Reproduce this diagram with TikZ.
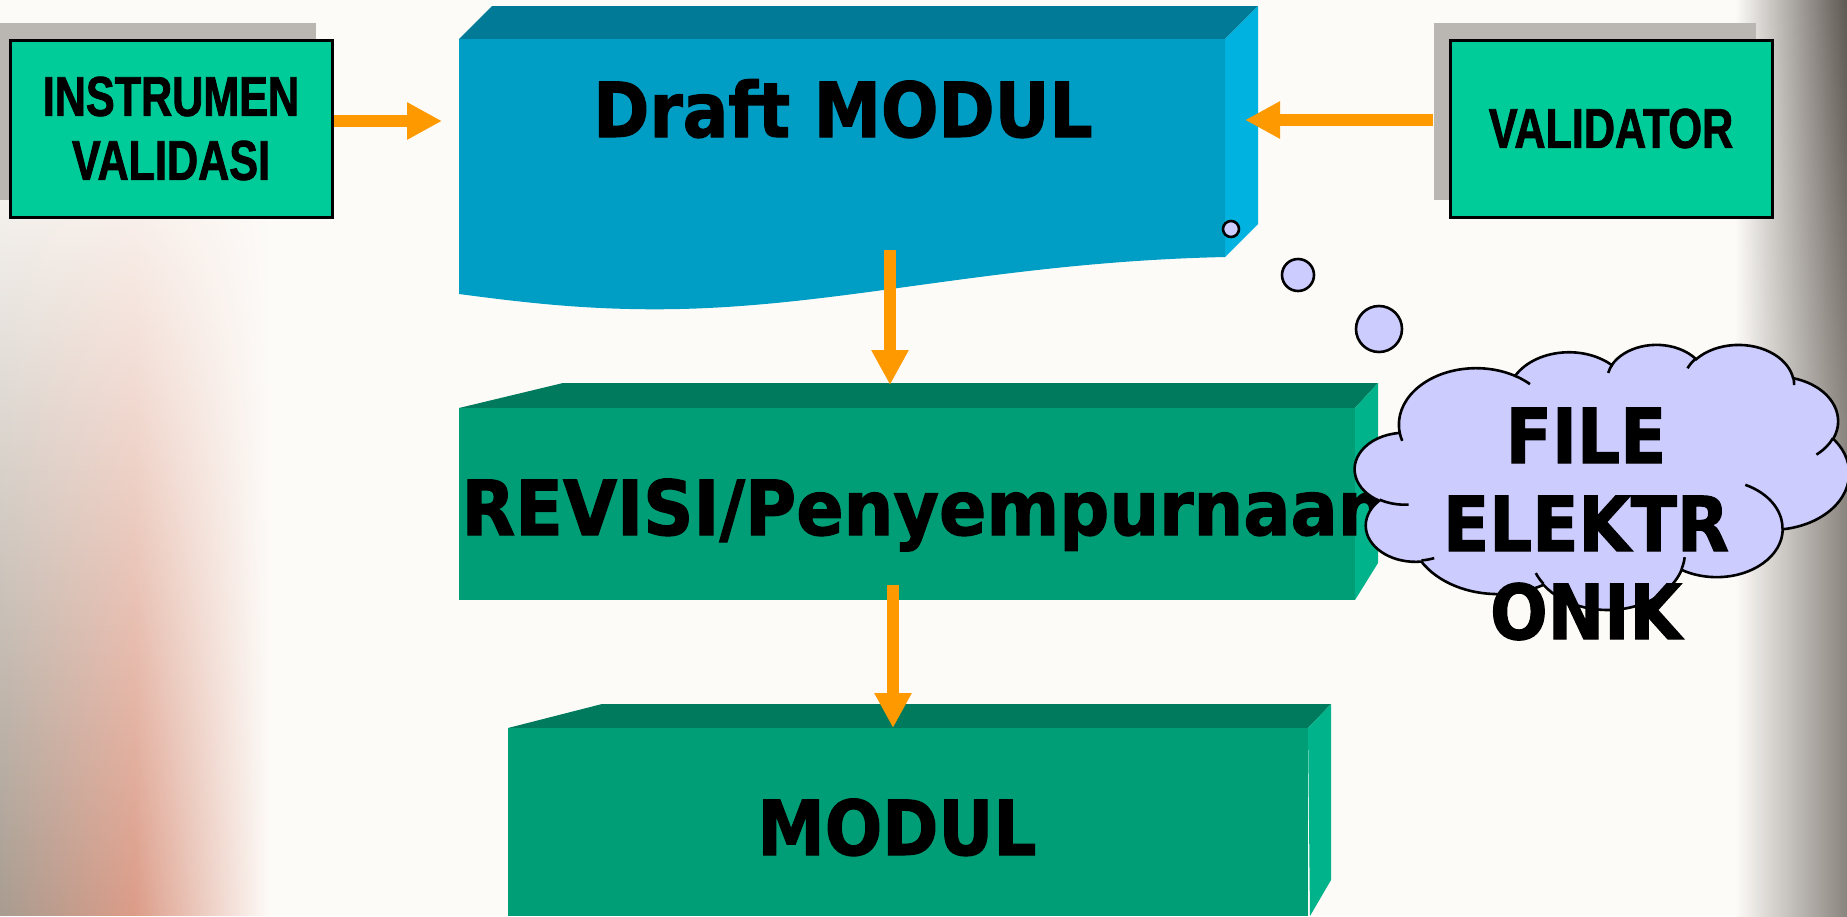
\documentclass[tikz,border=0pt]{standalone}
\usepackage{fontspec}
\usetikzlibrary{arrows.meta, shadows, fadings}
\newfontfamily\narrowbold[FakeStretch=0.77, FakeBold=1.5]{Liberation Sans Bold}
\newfontfamily\widebold[FakeStretch=0.89, FakeBold=1.5]{DejaVu Sans Bold}
\newfontfamily\revbold[FakeStretch=0.92, FakeBold=1.5]{DejaVu Sans Bold}

\definecolor{bgcol}{HTML}{FDFBF8}
\definecolor{leftgray}{HTML}{A89C90}
\definecolor{leftpink}{HTML}{DC9C88}
\definecolor{rightgray}{HTML}{8A847E}
\definecolor{rightdark}{HTML}{5E5852}
\definecolor{rightwarm}{HTML}{E6CFA8}
\definecolor{boxgreen}{HTML}{00CC99}
\definecolor{shadowgray}{HTML}{BAB6B2}
\definecolor{arrorange}{HTML}{FF9900}
\definecolor{draftfront}{HTML}{009DC4}
\definecolor{drafttop}{HTML}{007A96}
\definecolor{draftside}{HTML}{00B2E0}
\definecolor{revfront}{HTML}{009E76}
\definecolor{revtop}{HTML}{007A5C}
\definecolor{revside}{HTML}{00B38A}
\definecolor{cloudfill}{HTML}{CCCCFF}

\tikzfading[name=leftfade, top color=transparent!100, middle color=transparent!35, bottom color=transparent!0]
\tikzfading[name=midfade, top color=transparent!100, middle color=transparent!0, bottom color=transparent!100]

% one arc of the cloud outline: x radius, y radius, start angle, sweep (ray angles)
\newcommand{\cloudarc}[4]{arc[x radius=#1, y radius=#2,
  start angle={atan2(#1*sin(#3),#2*cos(#3))},
  delta angle={mod(atan2(#1*sin(#3+#4),#2*cos(#3+#4))-atan2(#1*sin(#3),#2*cos(#3))+720,360)}]}

\begin{document}
\begin{tikzpicture}[x=0.5pt,y=-0.5pt,
  greenbox/.style={draw=black, line width=1.5pt, fill=boxgreen,
    minimum width=161pt, minimum height=88.5pt, inner sep=0pt,
    font=\narrowbold\fontsize{28}{32}\selectfont,
    general shadow={fill=shadowgray, shadow xshift=-8pt, shadow yshift=8.5pt}},
  arr/.style={draw=arrorange, line width=6pt, -{Triangle[length=17.5pt,width=17.5pt]}},
  bigtext/.style={font=\widebold\fontsize{38}{44}\selectfont, inner sep=0pt},
  cloudline/.style={draw=black, line width=1.3pt},
  bubble/.style={circle, cloudline, fill=cloudfill, inner sep=0pt}]
\useasboundingbox (0,0) rectangle (1847,916);
% background
\fill[bgcol] (0,0) rectangle (1847,916);
\shade[left color=leftgray, right color=bgcol, middle color=leftpink, path fading=leftfade] (0,120) rectangle (270,916);
\shade[left color=bgcol, right color=rightgray] (1735,0) rectangle (1847,916);
\shade[left color=bgcol, right color=rightdark, path fading=south] (1735,0) rectangle (1847,420);
\shade[left color=bgcol, right color=rightwarm, path fading=midfade] (1735,380) rectangle (1847,760);

% Draft MODUL block
\fill[drafttop] (459,39) -- (492,6) -- (1258,6) -- (1225,39) -- cycle;
\fill[draftside] (1225,39) -- (1258,6) -- (1258,224) -- (1225,257) -- cycle;
\fill[draftfront] (459,39) -- (1225,39) -- (1225,257) .. controls (1000,262) and (850,305) .. (680,309) .. controls (590,311) and (520,302) .. (459,294) -- cycle;
\node[bigtext, anchor=base] (draft) at (843,137) {Draft MODUL};

% REVISI block
\fill[revtop] (459,408) -- (563,383) -- (1378,383) -- (1355,408) -- cycle;
\fill[revside] (1355,408) -- (1378,383) -- (1378,563) -- (1355,600) -- cycle;
\fill[revfront] (459,408) rectangle (1355,600);
\node[bigtext, font=\revbold\fontsize{38}{44}\selectfont, anchor=base west] (revisi) at (461,535) {REVISI/Penyempurnaan};

% MODUL block
\fill[revtop] (508,728) -- (602,704) -- (1331,704) -- (1308,728) -- cycle;
\fill[revside] (1308,728) -- (1331,704) -- (1331,880) -- (1310,916) -- cycle;
\fill[revfront] (508,728) rectangle (1308,916);
\node[bigtext, anchor=base] (modul) at (897,855) {MODUL};

% side boxes
\node[greenbox, align=center] (instr) at (171,128.5) {INSTRUMEN\\VALIDASI};
\node[greenbox] (valid) at (1611,128.5) {VALIDATOR};

% arrows
\coordinate (draftwest) at (442,121);
\coordinate (drafteast) at (1245,120);
\coordinate (draftfoot) at (890,250);
\coordinate (revisitop) at (890,385);
\coordinate (revisifoot) at (893,585);
\coordinate (modultop) at (893,728);
\draw[arr] (instr.east |- draftwest) -- (draftwest);
\draw[arr, shorten <=8pt] (valid.west |- drafteast) -- (drafteast);
\draw[arr] (draftfoot) -- (revisitop);
\draw[arr] (revisifoot) -- (modultop);

% thought cloud
\begin{scope}[shift={(1355,344)}, x=0.571759pt, y=-0.306713pt]
\filldraw[cloudline, fill=cloudfill] (39,143.7)
  \cloudarc{67.53}{91.90}{-190.4875}{123.7805}
  \cloudarc{53.33}{72.67}{-144.1024}{89.9452}
  \cloudarc{43.65}{59.45}{-145.8079}{99.7230}
  \cloudarc{48.57}{65.95}{-130.9861}{117.2417}
  \cloudarc{53.33}{72.73}{-78.7089}{109.0269}
  \cloudarc{67.75}{92.20}{-46.2673}{130.2690}
  \cloudarc{57.85}{78.67}{0.6250}{114.0333}
  \cloudarc{67.52}{92.15}{22.4516}{115.1726}
  \cloudarc{77.20}{105.43}{66.2426}{75.7110}
  \cloudarc{43.60}{59.18}{-274.9421}{146.7356}
  \cloudarc{43.45}{59.45}{-246.8285}{152.5182} -- cycle;
\draw[cloudline]
  (46.93,261.77) \cloudarc{43.45}{59.45}{86.7420}{26.4295}
  (69.28,348.99) \cloudarc{43.60}{59.18}{73.6105}{11.4475}
  (164.78,390.90) \cloudarc{67.52}{92.15}{137.6242}{14.0811}
  (288.27,347.51) \cloudarc{67.52}{92.15}{6.4533}{15.9984}
  (341.29,229.54) \cloudarc{57.85}{78.67}{-70.2924}{70.9174}
  (417.98,153.54) \cloudarc{53.33}{72.73}{30.3180}{27.7515}
  (383.24,54.26) \cloudarc{48.57}{65.95}{-13.7443}{14.8589}
  (290.78,39.52) \cloudarc{48.57}{65.95}{-149.1815}{18.1954}
  (221.41,47.20) \cloudarc{43.65}{59.45}{-163.4943}{17.6864}
  (140.00,51.92) \cloudarc{67.53}{91.90}{-66.7070}{12.3194}
  (41.27,157.89) \cloudarc{67.53}{91.90}{157.6544}{11.8582};
\end{scope}
\node[bubble, minimum size=8pt] (b1) at (1231,229) {};
\node[bubble, minimum size=16pt] (b2) at (1298,275) {};
\node[bubble, minimum size=23pt] (b3) at (1379,329) {};
\node[bigtext, align=center] (filetext) at (1586,524) {FILE\\ELEKTR\\ONIK};
\end{tikzpicture}
\end{document}
